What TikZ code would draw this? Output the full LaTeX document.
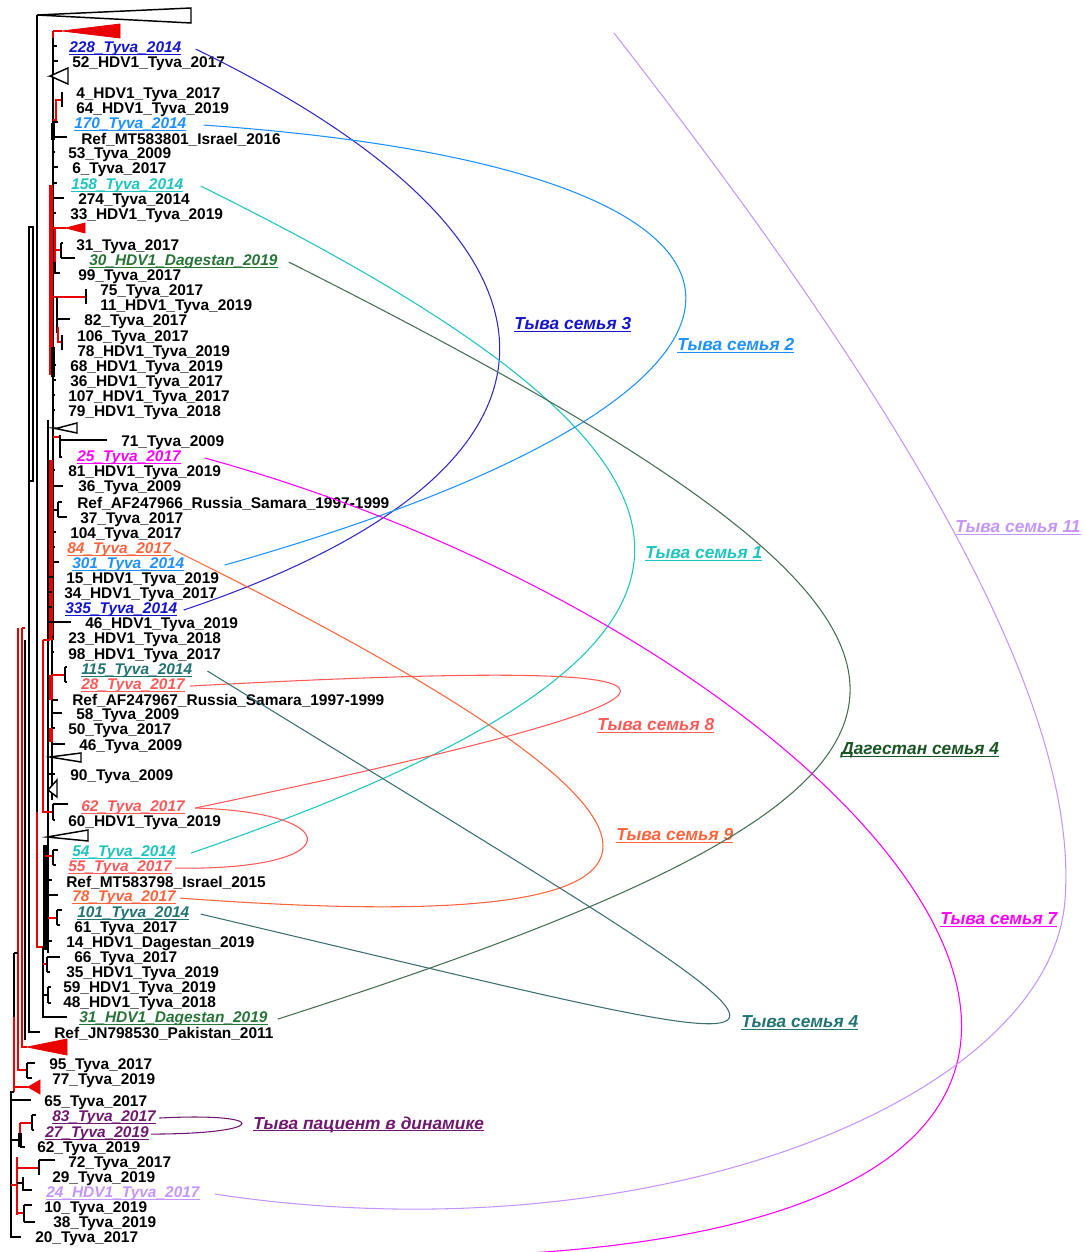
\documentclass[tikz,border=0pt]{standalone}
\usepackage{fontspec}
\setmainfont{Liberation Sans}
\usetikzlibrary{calc}
\definecolor{treered}{RGB}{235,0,0}
\definecolor{famblue}{RGB}{20,20,205}
\definecolor{arcblue}{RGB}{50,40,200}
\definecolor{famsky}{RGB}{30,144,255}
\definecolor{famturq}{RGB}{30,196,190}
\definecolor{famgreen}{RGB}{40,115,55}
\definecolor{labgreen}{RGB}{25,85,35}
\definecolor{arcgreen}{RGB}{70,110,85}
\definecolor{fammag}{RGB}{255,0,255}
\definecolor{famcoral}{RGB}{255,100,60}
\definecolor{famsalmon}{RGB}{255,90,90}
\definecolor{famteal}{RGB}{35,115,115}
\definecolor{arcteal}{RGB}{60,110,110}
\definecolor{fampurple}{RGB}{110,25,110}
\definecolor{famlav}{RGB}{195,150,255}
% underline a text just below its baseline
\newcommand\ulx[1]{\setbox0\hbox{#1}\rlap{\rule[-1.7pt]{\wd0}{0.8pt}}\box0}
\begin{document}
\begin{tikzpicture}[x=0.75pt,y=-0.75pt,
  bk/.style={line width=1.3pt,black},
  rd/.style={line width=1.3pt,treered},
  thk/.style={line width=2.6pt},
  opentri/.style={draw=black,line width=1.1pt,fill=white,line join=miter},
  redtri/.style={fill=treered,draw=treered,line width=0.6pt},
  leaf/.style={anchor=west,inner sep=0pt,yshift=-2.3pt,font=\fontsize{11.6}{13}\selectfont\bfseries},
  tag/.style={anchor=west,inner sep=0pt,yshift=-2.3pt,font=\fontsize{11.6}{13}\selectfont\bfseries\itshape},
  fam/.style={anchor=west,inner sep=0pt,yshift=-1.2pt,font=\fontsize{13}{15}\selectfont\bfseries\itshape},
  arc/.style={line width=0.8pt}]
\useasboundingbox (0,0) rectangle (1082,1252);

% ---------- deep branches ----------
\draw[bk] (37,15) -- (37,812);
\draw[opentri] (37,15) -- (191,8) -- (191,23) -- cycle;
\draw[rd] (37,812) -- (37,947) -- (43,947);
\draw[bk] (43,947) -- (43,1017) -- (67,1017);
\draw[bk] (29,227) rectangle (33,481);
\draw[bk] (29,481) -- (29,1032) -- (40,1032);
\draw[rd] (22,628) -- (25,628);
\draw[bk] (25,640) -- (25,1040);
\draw[rd] (22,628) -- (22,1047) -- (27,1047);
\draw[redtri] (27,1047) -- (67,1039) -- (67,1055) -- cycle;
\draw[rd] (18,628) -- (18,1070) -- (27,1070);
\draw[bk] (27,1063) -- (27,1078);
\draw[bk] (27,1063) -- (35,1063);
\draw[bk] (27,1078) -- (32,1078);
% lower root
\draw[bk] (14,953) -- (14,1017);
\draw[bk] (14,953) -- (18,953);
\draw[rd] (14,1017) -- (14,1092);
\draw[rd] (14,1087) -- (28,1087);
\draw[redtri] (28,1087) -- (40,1080) -- (40,1094) -- cycle;
\draw[bk] (14,1092) -- (11,1092) -- (11,1237) -- (21,1237);
\draw[bk] (11,1100) -- (31,1100);
\draw[bk] (11,1140) -- (20,1140);
\draw[rd] (20,1123) -- (20,1137);
\draw[bk,thk] (20,1133) -- (20,1147);
\draw[bk] (20,1147) -- (25,1147);
\draw[rd] (20,1123) -- (32,1123);
\draw[bk] (32,1115) -- (32,1130);
\draw[bk] (32,1115) -- (36,1115);
\draw[bk] (32,1130) -- (34,1130);
\draw[rd] (11,1185) -- (17,1185);
\draw[rd] (17,1157) -- (17,1215);
\draw[rd] (17,1168) -- (39,1168);
\draw[bk] (39,1160) -- (39,1175);
\draw[bk] (39,1160) -- (55,1160);
\draw[bk] (17,1183) -- (23,1183);
\draw[bk] (23,1177) -- (23,1190) -- (32,1190);
\draw[rd] (17,1213) -- (24,1213);
\draw[bk] (24,1205) -- (24,1222);
\draw[bk] (24,1205) -- (32,1205);
\draw[bk] (24,1222) -- (35,1222);

% ---------- upper clade ----------
\draw[rd] (53,31) -- (53,38);
\draw[rd] (53,31) -- (62,31);
\draw[redtri] (62,31) -- (120,24) -- (120,38) -- cycle;
\draw[bk] (53,38) -- (53,640);
\draw[rd,thk] (51,185) -- (51,375);
\draw[rd,thk] (51,460) -- (51,640);
\draw[bk,thk] (53,123) -- (53,140);
\draw[bk,thk] (53,347) -- (53,377);
\foreach \y/\t in {46/57,61/58,122/58,137/67,152/55,167/58,183/57,198/64,213/56,
                   365/56,380/56,395/55,410/55,470/55,486/63,532/56,547/55,562/59}
  \draw[bk] (53,\y) -- (\t,\y);
\draw[opentri] (53,76) -- (50,76) -- (68,68) -- (68,84) -- (50,76);
\draw[rd] (53,120) -- (56,120) -- (56,100) -- (62,100);
\draw[bk] (62,92) -- (62,107);
% red collapsed clade and the 31 / 30 / 99 group
\draw[rd] (55,228) -- (55,262);
\draw[rd] (53,228) -- (66,228);
\draw[redtri] (66,228) -- (85,223) -- (85,233) -- cycle;
\draw[rd] (55,250) -- (61,250);
\draw[bk] (61,243) -- (61,258);
\draw[bk] (61,243) -- (63,243);
\draw[bk] (61,258) -- (75,258);
\draw[bk] (55,262) -- (55,273) -- (60,273);
% 75 / 11 / 82 / 106 / 78
\draw[rd] (53,297) -- (86,297);
\draw[bk] (86,289) -- (86,304);
\draw[bk] (57,297) -- (57,333);
\draw[bk] (57,319) -- (70,319);
\draw[rd] (58,327) -- (58,342) -- (62,342);
\draw[bk] (62,335) -- (62,350);
\draw[opentri] (53,428) -- (58,428) -- (77,423) -- (77,433) -- cycle;
% 71 / 25
\draw[rd] (53,437) -- (60,437);
\draw[bk] (60,435) -- (60,457) -- (62,457);
\draw[bk] (60,440) -- (107,440);
% Ref_AF247966 / 37
\draw[bk] (53,510) -- (58,510);
\draw[bk] (58,502) -- (58,517);
\draw[bk] (58,502) -- (62,502);
\draw[bk] (58,517) -- (67,517);

% ---------- middle clade ----------
\draw[bk] (48,420) -- (48,953);
\foreach \y/\t in {577/53,592/52,607/52,622/71}
  \draw[bk] (48,\y) -- (\t,\y);
\draw[rd] (43,640) -- (50,640);
\draw[rd] (43,640) -- (43,812) -- (53,812);
\draw[bk] (52,640) -- (52,800);
\draw[bk] (52,637) -- (54,637);
\draw[bk] (52,652) -- (54,652);
\draw[rd] (52,675) -- (65,675);
\draw[bk] (65,667) -- (65,682);
\draw[bk] (65,667) -- (67,667);
\draw[bk] (65,682) -- (67,682);
\draw[rd,thk] (51,675) -- (51,700);
\draw[rd,thk] (51,728) -- (51,742);
\foreach \y/\t in {700/58,713/62,728/55,744/65}
  \draw[bk] (52,\y) -- (\t,\y);
\draw[opentri] (50,757) -- (81,753) -- (81,762) -- cycle;
\draw[bk] (48,774) -- (55,774);
\draw[opentri] (48,790) -- (57,780) -- (57,797) -- cycle;
\draw[bk] (53,804) -- (53,820);
\draw[bk] (53,804) -- (68,804);
\draw[bk] (53,820) -- (55,820);
\draw[opentri] (47,837) -- (88,830) -- (88,841) -- cycle;
% 54 / 55 / Ref_MT583798 / 78
\draw[bk,thk] (45,845) -- (45,950);
\draw[rd] (45,856) -- (53,856);
\draw[bk] (53,850) -- (53,865);
\draw[bk] (53,850) -- (58,850);
\draw[bk] (53,865) -- (56,865);
\draw[bk] (45,880) -- (52,880);
\draw[bk] (45,895) -- (58,895);
% 101 / 61 / 14
\draw[rd] (48,918) -- (57,918);
\draw[bk] (57,910) -- (57,925);
\draw[bk] (57,910) -- (62,910);
\draw[bk] (57,925) -- (60,925);
\draw[bk] (48,941) -- (52,941);
% 66 / 35 / 59 / 48
\draw[rd] (43,964) -- (47,964);
\draw[bk] (47,957) -- (47,972);
\draw[bk] (47,957) -- (60,957);
\draw[bk] (47,972) -- (50,972);
\draw[bk] (43,995) -- (48,995);
\draw[bk] (48,987) -- (48,1003);
\draw[bk] (48,987) -- (51,987);
\draw[bk] (48,1003) -- (51,1003);

% ---------- leaf labels ----------
\node[tag,famblue]   (l228) at (69,46)  {\ulx{228\_Tyva\_2014}};
\node[leaf] (l52)   at (72,61)  {52\_HDV1\_Tyva\_2017};
\node[leaf] (l4)    at (76,92)  {4\_HDV1\_Tyva\_2017};
\node[leaf] (l64)   at (76,107) {64\_HDV1\_Tyva\_2019};
\node[tag,famsky]    (l170) at (74,122) {\ulx{170\_Tyva\_2014}};
\node[leaf] (lm16)  at (81,137) {Ref\_MT583801\_Israel\_2016};
\node[leaf] (l53)   at (68,152) {53\_Tyva\_2009};
\node[leaf] (l6)    at (72,167) {6\_Tyva\_2017};
\node[tag,famturq]   (l158) at (71,183) {\ulx{158\_Tyva\_2014}};
\node[leaf] (l274)  at (78,198) {274\_Tyva\_2014};
\node[leaf] (l33)   at (70,213) {33\_HDV1\_Tyva\_2019};
\node[leaf] (l31)   at (76,244) {31\_Tyva\_2017};
\node[tag,famgreen]  (l30d) at (89,259) {\ulx{30\_HDV1\_Dagestan\_2019}};
\node[leaf] (l99)   at (78,274) {99\_Tyva\_2017};
\node[leaf] (l75)   at (100,289) {75\_Tyva\_2017};
\node[leaf] (l11)   at (100,304) {11\_HDV1\_Tyva\_2019};
\node[leaf] (l82)   at (84,319) {82\_Tyva\_2017};
\node[leaf] (l106)  at (77,335) {106\_Tyva\_2017};
\node[leaf] (l78h)  at (77,350) {78\_HDV1\_Tyva\_2019};
\node[leaf] (l68)   at (70,365) {68\_HDV1\_Tyva\_2019};
\node[leaf] (l36h)  at (70,380) {36\_HDV1\_Tyva\_2017};
\node[leaf] (l107)  at (68,395) {107\_HDV1\_Tyva\_2017};
\node[leaf] (l79)   at (68,410) {79\_HDV1\_Tyva\_2018};
\node[leaf] (l71)   at (121,440) {71\_Tyva\_2009};
\node[tag,fammag]    (l25)  at (77,455) {\ulx{25\_Tyva\_2017}};
\node[leaf] (l81)   at (68,470) {81\_HDV1\_Tyva\_2019};
\node[leaf] (l36)   at (78,485) {36\_Tyva\_2009};
\node[leaf] (lsam1) at (77,501) {Ref\_AF247966\_Russia\_Samara\_1997-1999};
\node[leaf] (l37)   at (80,517) {37\_Tyva\_2017};
\node[leaf] (l104)  at (70,532) {104\_Tyva\_2017};
\node[tag,famcoral]  (l84)  at (67,547) {\ulx{84\_Tyva\_2017}};
\node[tag,famsky]    (l301) at (72,562) {\ulx{301\_Tyva\_2014}};
\node[leaf] (l15)   at (66,577) {15\_HDV1\_Tyva\_2019};
\node[leaf] (l34)   at (64,592) {34\_HDV1\_Tyva\_2017};
\node[tag,famblue]   (l335) at (65,607) {\ulx{335\_Tyva\_2014}};
\node[leaf] (l46h)  at (85,622) {46\_HDV1\_Tyva\_2019};
\node[leaf] (l23)   at (68,637) {23\_HDV1\_Tyva\_2018};
\node[leaf] (l98)   at (68,653) {98\_HDV1\_Tyva\_2017};
\node[tag,famteal]   (l115) at (81,668) {\ulx{115\_Tyva\_2014}};
\node[tag,famsalmon] (l28)  at (81,683) {\ulx{28\_Tyva\_2017}};
\node[leaf] (lsam2) at (72,698) {Ref\_AF247967\_Russia\_Samara\_1997-1999};
\node[leaf] (l58)   at (76,713) {58\_Tyva\_2009};
\node[leaf] (l50)   at (68,728) {50\_Tyva\_2017};
\node[leaf] (l46)   at (79,744) {46\_Tyva\_2009};
\node[leaf] (l90)   at (70,774) {90\_Tyva\_2009};
\node[tag,famsalmon] (l62)  at (81,805) {\ulx{62\_Tyva\_2017}};
\node[leaf] (l60)   at (68,820) {60\_HDV1\_Tyva\_2019};
\node[tag,famturq]   (l54)  at (72,850) {\ulx{54\_Tyva\_2014}};
\node[tag,famsalmon] (l55)  at (68,865) {\ulx{55\_Tyva\_2017}};
\node[leaf] (lm15)  at (66,880) {Ref\_MT583798\_Israel\_2015};
\node[tag,famcoral]  (l78)  at (72,895) {\ulx{78\_Tyva\_2017}};
\node[tag,famteal]   (l101) at (77,911) {\ulx{101\_Tyva\_2014}};
\node[leaf] (l61)   at (74,926) {61\_Tyva\_2017};
\node[leaf] (l14d)  at (66,941) {14\_HDV1\_Dagestan\_2019};
\node[leaf] (l66)   at (74,956) {66\_Tyva\_2017};
\node[leaf] (l35)   at (66,971) {35\_HDV1\_Tyva\_2019};
\node[leaf] (l59)   at (63,986) {59\_HDV1\_Tyva\_2019};
\node[leaf] (l48)   at (63,1001) {48\_HDV1\_Tyva\_2018};
\node[tag,famgreen]  (l31d) at (79,1016) {\ulx{31\_HDV1\_Dagestan\_2019}};
\node[leaf] (lpak)  at (54,1031) {Ref\_JN798530\_Pakistan\_2011};
\node[leaf] (l95)   at (49,1063) {95\_Tyva\_2017};
\node[leaf] (l77)   at (52,1078) {77\_Tyva\_2019};
\node[leaf] (l65)   at (44,1100) {65\_Tyva\_2017};
\node[tag,fampurple] (l83)  at (52,1115) {\ulx{83\_Tyva\_2017}};
\node[tag,fampurple] (l27)  at (45,1131) {\ulx{27\_Tyva\_2019}};
\node[leaf] (l62b)  at (37,1146) {62\_Tyva\_2019};
\node[leaf] (l72)   at (68,1161) {72\_Tyva\_2017};
\node[leaf] (l29)   at (52,1176) {29\_Tyva\_2019};
\node[tag,famlav]    (l24)  at (46,1191) {\ulx{24\_HDV1\_Tyva\_2017}};
\node[leaf] (l10)   at (44,1206) {10\_Tyva\_2019};
\node[leaf] (l38)   at (53,1221) {38\_Tyva\_2019};
\node[leaf] (l20)   at (35,1236) {20\_Tyva\_2017};

% ---------- family labels ----------
\node[fam,famblue]   (f3)  at (514,323)  {\ulx{Тыва семья 3}};
\node[fam,famsky]    (f2)  at (677,344)  {\ulx{Тыва семья 2}};
\node[fam,famlav]    (f11) at (955,526)  {\ulx{Тыва семья 11}};
\node[fam,famturq]   (f1)  at (645,552)  {\ulx{Тыва семья 1}};
\node[fam,famsalmon] (f8)  at (597,724)  {\ulx{Тыва семья 8}};
\node[fam,labgreen]  (fd4) at (841,749)  {\ulx{Дагестан семья 4}};
\node[fam,famcoral]  (f9)  at (616,834)  {\ulx{Тыва семья 9}};
\node[fam,fammag]    (f7)  at (940,918)  {\ulx{Тыва семья 7}};
\node[fam,famteal]   (f4)  at (741,1021) {\ulx{Тыва семья 4}};
\node[fam,fampurple] (fp)  at (253,1123) {\ulx{Тыва пациент в динамике}};

% ---------- family links ----------
\coordinate (lavtop) at (614,33);
\coordinate (magend) at (530,1253);
\draw[arc,arcblue] ($(l228.east)+(14,0)$) .. controls (603,247) and (603,469) .. ($(l335.east)+(6,0)$);
\draw[arc,famsky] ($(l170.east)+(17,0)$) .. controls (843,170) and (843,390) .. ($(l301.east)+(40,0)$);
\draw[arc,famturq] ($(l158.east)+(17,0)$) .. controls (781,472) and (781,650) .. ($(l54.east)+(15,0)$);
\draw[arc,arcgreen] ($(l30d.east)+(11,0)$) .. controls (1039,640) and (1039,775) .. ($(l31d.east)+(10,0)$);
\draw[arc,fammag] ($(l25.east)+(24,0)$) .. controls (865,640) and (1350,1200) .. (magend);
\draw[arc,famlav] (lavtop) .. controls (900,400) and (1080,700) .. (1065,900)
   .. controls (1050,1100) and (650,1260) .. ($(l24.east)+(15,0)$);
\draw[arc,famsalmon] ($(l28.east)+(5,0)$) .. controls (763,655) and (763,689) .. ($(l62.east)+(10,0)$);
\draw[arc,famsalmon] ($(l62.east)+(10,0)$) .. controls (348,812) and (348,871) .. ($(l55.east)+(3,0)$);
\draw[arc,famcoral] ($(l84.east)+(3,0)$) .. controls (745,832) and (745,940) .. ($(l78.east)+(4,0)$);
\draw[arc,arcteal] ($(l115.east)+(15,0)$) .. controls (905,1100) and (905,1080) .. ($(l101.east)+(11,0)$);
\draw[arc,fampurple] ($(l83.east)+(3,0)$) .. controls (271,1112) and (271,1134) .. ($(l27.east)+(2,0)$);
\end{tikzpicture}
\end{document}
